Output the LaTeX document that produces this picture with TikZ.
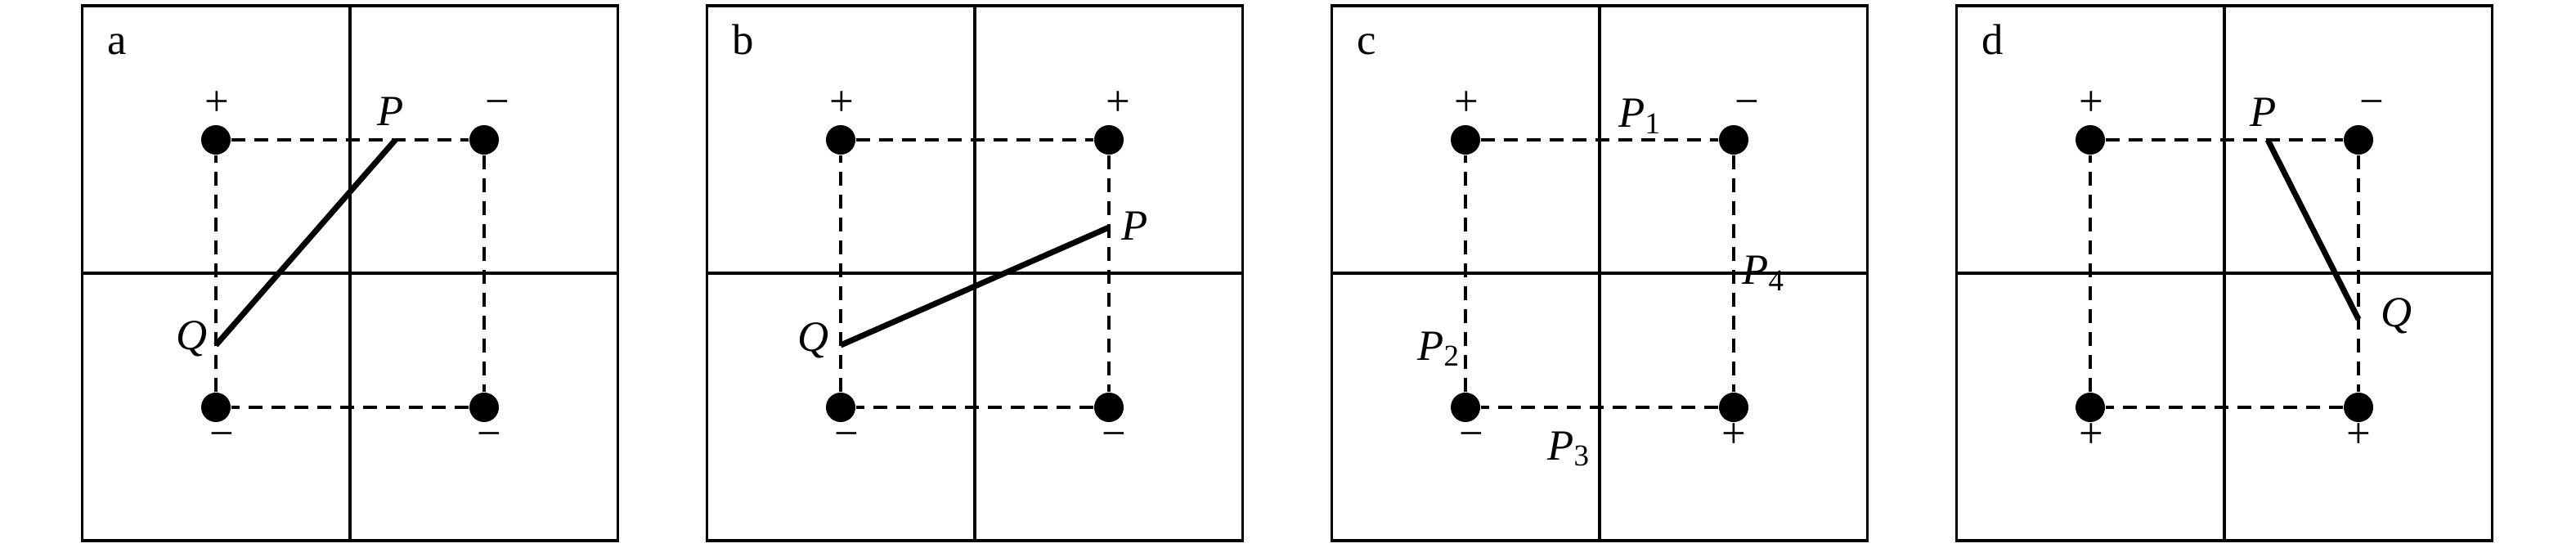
\documentclass[tikz,border=0pt]{standalone}
\usepackage{fontspec}
\setmainfont{Liberation Serif}
\usepackage{tikz}
\usetikzlibrary{positioning}

\tikzset{
  dot/.style={circle, fill, inner sep=0pt, minimum size=0.36cm},
  sign/.style={inner sep=0pt, text height=0.5em, text depth=0pt},
  up/.style={sign, label distance=1.0mm},
  dn/.style={sign, label distance=0.4mm},
  frame/.style={line width=1pt},
  wire/.style={line width=0.95pt, dash pattern=on 0.17cm off 0.11cm},
  rod/.style={line width=2pt},
  tag/.style={anchor=base west, inner sep=0pt}
}

\begin{document}
\begin{tikzpicture}
	\fontsize{15}{18}\selectfont
  \useasboundingbox (0,0) rectangle (31.5,6.69);

  % four cells, each split in four
  \foreach \k in {0,...,3} {
    \begin{scope}[shift={(1.005+7.64*\k,0.08)}]
      \draw[frame] (0,0) rectangle (6.55,6.54);
      \draw[frame] (3.275,0) -- (3.275,6.54);
      \draw[frame] (0,3.27) -- (6.55,3.27);
    \end{scope}
  }

  % a
  \begin{scope}[shift={(1.005,0.08)}]
  \node[tag] (ta) at (0.30,5.94) {a};
  \node[dot, label={[up, xshift=0.15mm]above:+}] (a1) at (1.635,4.90) {};
  \node[dot, label={[up, xshift=1.65mm]above:−}] (a2) at (4.915,4.90) {};
  \node[dot, label={[dn, xshift=0.7mm]below:−}] (a3) at (1.635,1.63) {};
  \node[dot, label={[dn, xshift=0.65mm]below:−}] (a4) at (4.915,1.63) {};
  \draw[wire] (a1) -- (a2) -- (a4) -- (a3) -- (a1);
  \coordinate (aP) at (3.83,4.90);
  \coordinate (aQ) at (1.635,2.39);
  \draw[rod] (aP) -- (aQ);
  \node (aPl) at (3.77,5.245) {\textit{P}};
  \node (aQl) at (1.34,2.47) {\textit{Q}};
  \end{scope}

  % b
  \begin{scope}[shift={(8.645,0.08)}]
  \node[tag] (tb) at (0.30,5.94) {b};
  \node[dot, label={[up, xshift=0.15mm]above:+}] (b1) at (1.635,4.90) {};
  \node[dot, label={[up, xshift=1.1mm]above:+}] (b2) at (4.915,4.90) {};
  \node[dot, label={[dn, xshift=0.7mm]below:−}] (b3) at (1.635,1.63) {};
  \node[dot, label={[dn, xshift=0.65mm]below:−}] (b4) at (4.915,1.63) {};
  \draw[wire] (b1) -- (b2) -- (b4) -- (b3) -- (b1);
  \coordinate (bP) at (4.915,3.83);
  \coordinate (bQ) at (1.635,2.39);
  \draw[rod] (bP) -- (bQ);
  \node (bPl) at (5.23,3.845) {\textit{P}};
  \node (bQl) at (1.30,2.45) {\textit{Q}};
  \end{scope}

  % c
  \begin{scope}[shift={(16.285,0.08)}]
  \node[tag] (tc) at (0.30,5.94) {c};
  \node[dot, label={[up, xshift=0.15mm]above:+}] (c1) at (1.635,4.90) {};
  \node[dot, label={[up, xshift=1.65mm]above:−}] (c2) at (4.915,4.90) {};
  \node[dot, label={[dn, xshift=0.7mm]below:−}] (c3) at (1.635,1.63) {};
  \node[dot, label={[dn]below:+}] (c4) at (4.915,1.63) {};
  \draw[wire] (c1) -- (c2) -- (c4) -- (c3) -- (c1);
  \node (p1) at (3.77,5.185) {\textit{P}\textsubscript{1}};
  \node (p2) at (1.31,2.344) {\textit{P}\textsubscript{2}};
  \node (p3) at (2.90,1.12) {\textit{P}\textsubscript{3}};
  \node (p4) at (5.28,3.27) {\textit{P}\textsubscript{4}};
  \end{scope}

  % d
  \begin{scope}[shift={(23.925,0.08)}]
  \node[tag] (td) at (0.30,5.94) {d};
  \node[dot, label={[up, xshift=0.15mm]above:+}] (d1) at (1.635,4.90) {};
  \node[dot, label={[up, xshift=1.65mm]above:−}] (d2) at (4.915,4.90) {};
  \node[dot, label={[dn, xshift=0.15mm]below:+}] (d3) at (1.635,1.63) {};
  \node[dot, label={[dn]below:+}] (d4) at (4.915,1.63) {};
  \draw[wire] (d1) -- (d2) -- (d4) -- (d3) -- (d1);
  \coordinate (dP) at (3.805,4.90);
  \coordinate (dQ) at (4.915,2.706);
  \draw[rod] (dP) -- (dQ);
  \node (dPl) at (3.75,5.24) {\textit{P}};
  \node (dQl) at (5.38,2.75) {\textit{Q}};
  \end{scope}
\end{tikzpicture}
\end{document}
